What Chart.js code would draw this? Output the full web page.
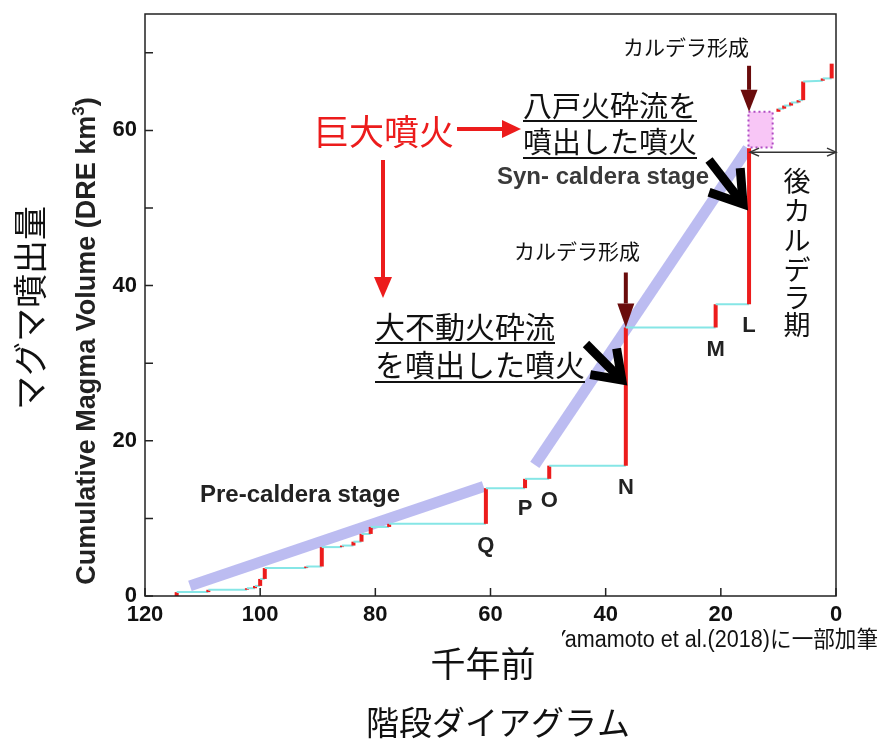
<!DOCTYPE html>
<html>
<head>
<meta charset="utf-8">
<script src="https://cdn.jsdelivr.net/npm/chart.js@4/dist/chart.umd.min.js"></script>
<style>
  html, body { margin: 0; padding: 0; background: #fff; }
  #wrap { width: 882px; height: 744px; }
</style>
</head>
<body>
<div id="wrap"><canvas id="chart" width="882" height="744"></canvas></div>
<script>
// ---- Eruptive history (age in ka, cumulative DRE volume in km3) ----
// pre-caldera and syn-caldera eruptions, each drawn as a vertical step
const eruptionAge  = [114.5, 109.0, 102.3, 100.9, 100.0, 99.2, 92.0, 89.3, 85.8, 83.8, 82.4, 80.8, 77.6, 60.8, 54.0, 49.8, 36.5, 20.9, 15.1];
const volumeBefore = [0.0, 0.5, 0.8, 1.0, 1.3, 2.2, 3.6, 3.8, 6.3, 6.5, 7.0, 8.0, 8.9, 9.3, 13.9, 15.1, 16.8, 34.6, 37.6];
const volumeAfter  = [0.5, 0.8, 1.0, 1.3, 2.2, 3.6, 3.8, 6.3, 6.5, 7.0, 8.0, 8.9, 9.3, 13.9, 15.1, 16.8, 34.6, 37.6, 57.7];

// post-caldera eruptions
const postAge    = [10.0, 9.0, 7.8, 6.5, 5.7, 2.3, 0.75];
const postBefore = [62.4, 62.8, 63.2, 63.6, 63.9, 66.4, 66.7];
const postAfter  = [62.8, 63.2, 63.6, 63.9, 66.3, 66.7, 68.6];

// stage trend lines
const preTrendAge = [112.2, 61.2];
const preTrendVol = [1.3, 14.1];
const synTrendAge = [52.3, 15.3];
const synTrendVol = [16.9, 57.7];

// caldera-formation box
const boxAge = [15.2, 11.0];
const boxVol = [57.8, 62.4];

// named eruptions
const namedLabel = ['Q', 'P', 'O', 'N', 'M', 'L'];
const namedAge   = [60.8, 54.0, 49.8, 36.5, 20.9, 15.1];
const namedVol   = [9.3, 14.0, 15.1, 16.8, 34.6, 37.6];

// axis ticks
const xTickValues = [120, 100, 80, 60, 40, 20, 0];
const yTickValues = [0, 20, 40, 60];
const yMinorTicks = [0, 10, 20, 30, 40, 50, 60, 70];

const RED = '#ec1c1c';
const CYAN = '#86e6e6';
const LAVENDER = 'rgba(176,176,238,0.85)';
const MAROON = '#6a0c0c';
const JP = '"Noto Sans CJK JP", "Noto Sans", sans-serif';
const LAT = '"Liberation Sans", Arial, sans-serif';

function stepPoints(ages, before, after) {
  const pts = [];
  ages.forEach((a, i) => { pts.push({ x: a, y: before[i] }); pts.push({ x: a, y: after[i] }); });
  return pts;
}
const pairPoints = (xs, ys) => xs.map((x, i) => ({ x, y: ys[i] }));

const isVertical = ctx => ctx.p0.parsed.x === ctx.p1.parsed.x;
const stepSegment = {
  borderColor: ctx => isVertical(ctx) ? RED : CYAN,
  borderWidth: ctx => isVertical(ctx) ? 4 : 2
};

// ---- drawing helpers ----
function txt(ctx, s, x, y, font, color, align) {
  ctx.save();
  ctx.font = font; ctx.fillStyle = color || '#000';
  ctx.textAlign = align || 'left'; ctx.textBaseline = 'middle';
  ctx.fillText(s, x, y);
  ctx.restore();
}
function underlined(ctx, s, x, y, font, lineY) {
  ctx.save();
  ctx.font = font;
  const w = ctx.measureText(s).width;
  txt(ctx, s, x, y, font, '#111');
  ctx.strokeStyle = '#111'; ctx.lineWidth = 2;
  ctx.beginPath(); ctx.moveTo(x, lineY); ctx.lineTo(x + w, lineY); ctx.stroke();
  ctx.restore();
}
function solidArrow(ctx, x0, y0, x1, y1, color, width, headLen, headHalf) {
  const ang = Math.atan2(y1 - y0, x1 - x0);
  const bx = x1 - headLen * Math.cos(ang), by = y1 - headLen * Math.sin(ang);
  ctx.save();
  ctx.strokeStyle = color; ctx.fillStyle = color; ctx.lineWidth = width;
  ctx.beginPath(); ctx.moveTo(x0, y0); ctx.lineTo(bx, by); ctx.stroke();
  ctx.beginPath();
  ctx.moveTo(x1, y1);
  ctx.lineTo(bx + headHalf * Math.sin(ang), by - headHalf * Math.cos(ang));
  ctx.lineTo(bx - headHalf * Math.sin(ang), by + headHalf * Math.cos(ang));
  ctx.closePath(); ctx.fill();
  ctx.restore();
}
function chevronArrow(ctx, sx, sy, tx, ty, armLen, spread) {
  const ang = Math.atan2(ty - sy, tx - sx) + Math.PI;
  ctx.save();
  ctx.strokeStyle = '#000'; ctx.lineWidth = 9; ctx.lineCap = 'butt'; ctx.lineJoin = 'miter';
  ctx.beginPath(); ctx.moveTo(sx, sy); ctx.lineTo(tx, ty); ctx.stroke();
  ctx.beginPath();
  ctx.moveTo(tx + armLen * Math.cos(ang + spread), ty + armLen * Math.sin(ang + spread));
  ctx.lineTo(tx, ty);
  ctx.lineTo(tx + armLen * Math.cos(ang - spread), ty + armLen * Math.sin(ang - spread));
  ctx.stroke();
  ctx.restore();
}
function openHead(ctx, x, y, dir) {
  ctx.beginPath();
  ctx.moveTo(x - dir * 9, y - 4); ctx.lineTo(x, y); ctx.lineTo(x - dir * 9, y + 4);
  ctx.stroke();
}

const annotations = {
  id: 'annotations',
  beforeDatasetsDraw(chart) {
    const { ctx, scales: { x, y } } = chart;
    // caldera-formation box
    const bx0 = x.getPixelForValue(boxAge[0]), bx1 = x.getPixelForValue(boxAge[1]);
    const by0 = y.getPixelForValue(boxVol[1]), by1 = y.getPixelForValue(boxVol[0]);
    ctx.save();
    ctx.fillStyle = '#f8c6f6';
    ctx.fillRect(bx0, by0, bx1 - bx0, by1 - by0);
    ctx.strokeStyle = '#b04cc4'; ctx.lineWidth = 2; ctx.setLineDash([2, 3]);
    ctx.strokeRect(bx0, by0, bx1 - bx0, by1 - by0);
    ctx.restore();
  },
  afterDraw(chart) {
    const { ctx, chartArea: a, scales: { x, y } } = chart;
    ctx.save();
    // frame and inward ticks
    ctx.strokeStyle = '#222'; ctx.lineWidth = 1.5;
    ctx.strokeRect(a.left, a.top, a.right - a.left, a.bottom - a.top);
    ctx.beginPath();
    xTickValues.forEach(v => { const px = x.getPixelForValue(v); ctx.moveTo(px, a.bottom); ctx.lineTo(px, a.bottom - 8); });
    yMinorTicks.forEach(v => { const py = y.getPixelForValue(v); ctx.moveTo(a.left, py); ctx.lineTo(a.left + 8, py); });
    ctx.stroke();
    ctx.restore();

    // eruption names
    namedLabel.forEach((s, i) => {
      txt(ctx, s, x.getPixelForValue(namedAge[i]), y.getPixelForValue(namedVol[i]) + 22,
          'bold 22px ' + LAT, '#222', 'center');
    });

    // stage names
    txt(ctx, 'Pre-caldera stage', 200, 495, 'bold 24px ' + LAT, '#222');
    txt(ctx, 'Syn- caldera stage', 497, 177, 'bold 24px ' + LAT, '#3a3a3a');

    // caldera formation arrows
    const nX = x.getPixelForValue(namedAge[3]), nTop = y.getPixelForValue(volumeAfter[16]);
    const lX = x.getPixelForValue(namedAge[5]), lTop = y.getPixelForValue(boxVol[1]);
    solidArrow(ctx, nX, nTop - 55, nX, nTop, MAROON, 4, 24, 8.5);
    solidArrow(ctx, lX, lTop - 46, lX, lTop, MAROON, 4, 22, 8.5);
    txt(ctx, 'カルデラ形成', 577, 251, '21px ' + JP, '#111', 'center');
    txt(ctx, 'カルデラ形成', 686, 47, '21px ' + JP, '#111', 'center');

    // descriptions of the large eruptions
    underlined(ctx, '八戸火砕流を', 523, 106, '29px ' + JP, 121);
    underlined(ctx, '噴出した噴火', 523, 142, '29px ' + JP, 158);
    underlined(ctx, '大不動火砕流', 375, 327, '30px ' + JP, 343);
    underlined(ctx, 'を噴出した噴火', 375, 365, '30px ' + JP, 382);
    chevronArrow(ctx, 586, 344, nX - 4, 380, 32, 0.62);
    chevronArrow(ctx, 709, 160, lX - 6, 204, 36, 0.58);

    // 巨大噴火 with arrows
    txt(ctx, '巨大噴火', 384, 132, '35px ' + JP, RED, 'center');
    solidArrow(ctx, 457, 129, 521, 129, RED, 4, 19, 9);
    solidArrow(ctx, 383, 160, 383, 298, RED, 4, 21, 9);

    // post-caldera period span
    ctx.save();
    ctx.strokeStyle = '#333'; ctx.lineWidth = 1.5;
    const spanY = y.getPixelForValue(57.2);
    ctx.beginPath(); ctx.moveTo(lX + 1, spanY); ctx.lineTo(a.right, spanY); ctx.stroke();
    openHead(ctx, lX + 1, spanY, -1);
    openHead(ctx, a.right, spanY, 1);
    ctx.restore();
    const vert = ['後', 'カ', 'ル', 'デ', 'ラ', '期'];
    const vertY = [181, 211, 241, 270, 298, 325];
    vert.forEach((c, i) => txt(ctx, c, 797, vertY[i], '27px ' + JP, '#111', 'center'));

    // axis titles
    ctx.save();
    ctx.translate(88, 341); ctx.rotate(-Math.PI / 2);
    ctx.fillStyle = '#222'; ctx.textBaseline = 'middle'; ctx.textAlign = 'left';
    const main = 'Cumulative Magma Volume (DRE km';
    ctx.font = 'bold 27px ' + LAT;
    const w1 = ctx.measureText(main).width;
    ctx.font = 'bold 17px ' + LAT;
    const w2 = ctx.measureText('3').width;
    ctx.font = 'bold 27px ' + LAT;
    const w3 = ctx.measureText(')').width;
    let sx = -(w1 + w2 + w3) / 2;
    ctx.fillText(main, sx, 0);
    ctx.font = 'bold 17px ' + LAT; ctx.fillText('3', sx + w1, -9);
    ctx.font = 'bold 27px ' + LAT; ctx.fillText(')', sx + w1 + w2, 0);
    ctx.restore();

    ctx.save();
    ctx.translate(30, 308); ctx.rotate(-Math.PI / 2);
    txt(ctx, 'マグマ噴出量', 0, 0, '34px ' + JP, '#111', 'center');
    ctx.restore();

    txt(ctx, '千年前', 483, 664, '35px ' + JP, '#111', 'center');
    txt(ctx, '階段ダイアグラム', 498, 722, '33px ' + JP, '#111', 'center');

    // source note
    ctx.save();
    ctx.beginPath(); ctx.rect(562, 620, 320, 40); ctx.clip();
    ctx.font = '23px "Liberation Sans Narrow", ' + LAT + ', ' + JP;
    const note = 'Yamamoto et al.(2018)に一部加筆';
    const nw = ctx.measureText(note).width;
    const sc = 326 / nw;
    ctx.translate(878, 641); ctx.scale(sc, 1);
    ctx.fillStyle = '#111'; ctx.textAlign = 'right'; ctx.textBaseline = 'middle';
    ctx.fillText(note, 0, 0);
    ctx.restore();
  }
};

const tickFont = { family: LAT, size: 22, weight: 'bold' };

new Chart(document.getElementById('chart'), {
  type: 'scatter',
  data: {
    datasets: [
      { data: stepPoints(eruptionAge, volumeBefore, volumeAfter), showLine: true, pointRadius: 0,
        borderColor: CYAN, borderWidth: 2, segment: stepSegment, order: 1 },
      { data: stepPoints(postAge, postBefore, postAfter), showLine: true, pointRadius: 0,
        borderColor: CYAN, borderWidth: 2, segment: stepSegment, order: 1 },
      { data: pairPoints(preTrendAge, preTrendVol), showLine: true, pointRadius: 0,
        borderColor: LAVENDER, borderWidth: 11, borderCapStyle: 'butt', order: 5 },
      { data: pairPoints(synTrendAge, synTrendVol), showLine: true, pointRadius: 0,
        borderColor: LAVENDER, borderWidth: 11, borderCapStyle: 'butt', order: 5 }
    ]
  },
  options: {
    responsive: false,
    animation: false,
    events: [],
    layout: { padding: { left: 0, top: 14, right: 46, bottom: 0 } },
    plugins: { legend: { display: false }, tooltip: { enabled: false } },
    scales: {
      x: {
        type: 'linear', min: 0, max: 120, reverse: true,
        afterBuildTicks: s => { s.ticks = xTickValues.map(v => ({ value: v })); },
        afterFit: s => { s.height = 148; s.paddingLeft = 0; s.paddingRight = 0; },
        grid: { display: false, drawTicks: false },
        border: { display: false },
        ticks: { font: tickFont, color: '#111', padding: 6, maxRotation: 0, autoSkip: false }
      },
      y: {
        type: 'linear', min: 0, max: 75,
        afterBuildTicks: s => { s.ticks = yTickValues.map(v => ({ value: v })); },
        afterFit: s => { s.width = 145; s.paddingTop = 0; s.paddingBottom = 0; },
        grid: { display: false, drawTicks: false },
        border: { display: false },
        ticks: { font: tickFont, color: '#111', padding: 8, autoSkip: false }
      }
    }
  },
  plugins: [annotations]
});
</script>
</body>
</html>
